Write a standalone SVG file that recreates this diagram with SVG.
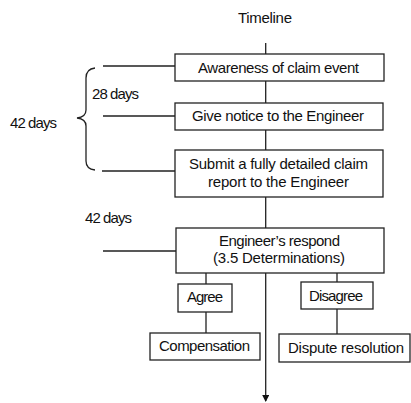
<svg xmlns="http://www.w3.org/2000/svg" width="411" height="403" viewBox="0 0 411 403">
<style>
.box{fill:#fff;stroke:#222;stroke-width:1.3}
.ln{fill:none;stroke:#222;stroke-width:1.3}
text{font-family:"Liberation Sans",Arial,sans-serif;font-size:15px;fill:#111}
.c{text-anchor:middle}
</style>
<defs>
<marker id="ah" markerWidth="8" markerHeight="8" refX="6" refY="3.5" orient="auto" markerUnits="userSpaceOnUse">
<path d="M0,0 L7,3.5 L0,7 Z" fill="#111"/>
</marker>
</defs>
<rect width="411" height="403" fill="#fff"/>
<g id="connectors">
<path class="ln" d="M265.7,43 V54 M265.7,81 V103 M265.7,130 V150 M265.7,197 V228"/>
<path class="ln" d="M265.7,273 V401" marker-end="url(#ah)"/>
<path class="ln" d="M103,66 H175 M103,116 H175 M102,171 H175 M103,251 H176"/>
<path class="ln" d="M206,273 V284 M206,312 V333 M337,273 V282 M337,309 V334"/>
<path class="ln" d="M95,68 Q86,69 86,78 V110 Q86,117 77,118 Q86,119 86,126 V161 Q86,169 95,170"/>
</g>
<g id="timeline-label"><text class="c" x="265" y="23.3" textLength="54">Timeline</text></g>
<g id="label-28"><text x="92" y="99" textLength="47">28 days</text></g>
<g id="label-42a"><text x="10" y="127.7" textLength="47">42 days</text></g>
<g id="label-42b"><text x="85" y="222.7" textLength="47">42 days</text></g>
<g id="n1"><rect class="box" x="175" y="54" width="209" height="27"/><text class="c" x="278.5" y="73.3" textLength="161">Awareness of claim event</text></g>
<g id="n2"><rect class="box" x="175" y="103" width="208" height="27"/><text class="c" x="278" y="120.7" textLength="172">Give notice to the Engineer</text></g>
<g id="n3"><rect class="box" x="175" y="150" width="208" height="47"/><text class="c" x="278.5" y="169" textLength="179">Submit a fully detailed claim</text><text class="c" x="278.5" y="186.7" textLength="141">report to the Engineer</text></g>
<g id="n4"><rect class="box" x="176" y="228" width="208" height="45"/><text class="c" x="279.5" y="245.7" textLength="121">Engineer’s respond</text><text class="c" x="279" y="263" textLength="132">(3.5 Determinations)</text></g>
<g id="n5"><rect class="box" x="178" y="284" width="54" height="28"/><text class="c" x="205" y="302.3" textLength="36">Agree</text></g>
<g id="n6"><rect class="box" x="150" y="333" width="110" height="27"/><text class="c" x="204.5" y="351" textLength="91">Compensation</text></g>
<g id="n7"><rect class="box" x="301" y="282" width="72" height="27"/><text class="c" x="336" y="300.7" textLength="54">Disagree</text></g>
<g id="n8"><rect class="box" x="279" y="334" width="131" height="28"/><text class="c" x="346" y="352.7" textLength="116">Dispute resolution</text></g>
</svg>
